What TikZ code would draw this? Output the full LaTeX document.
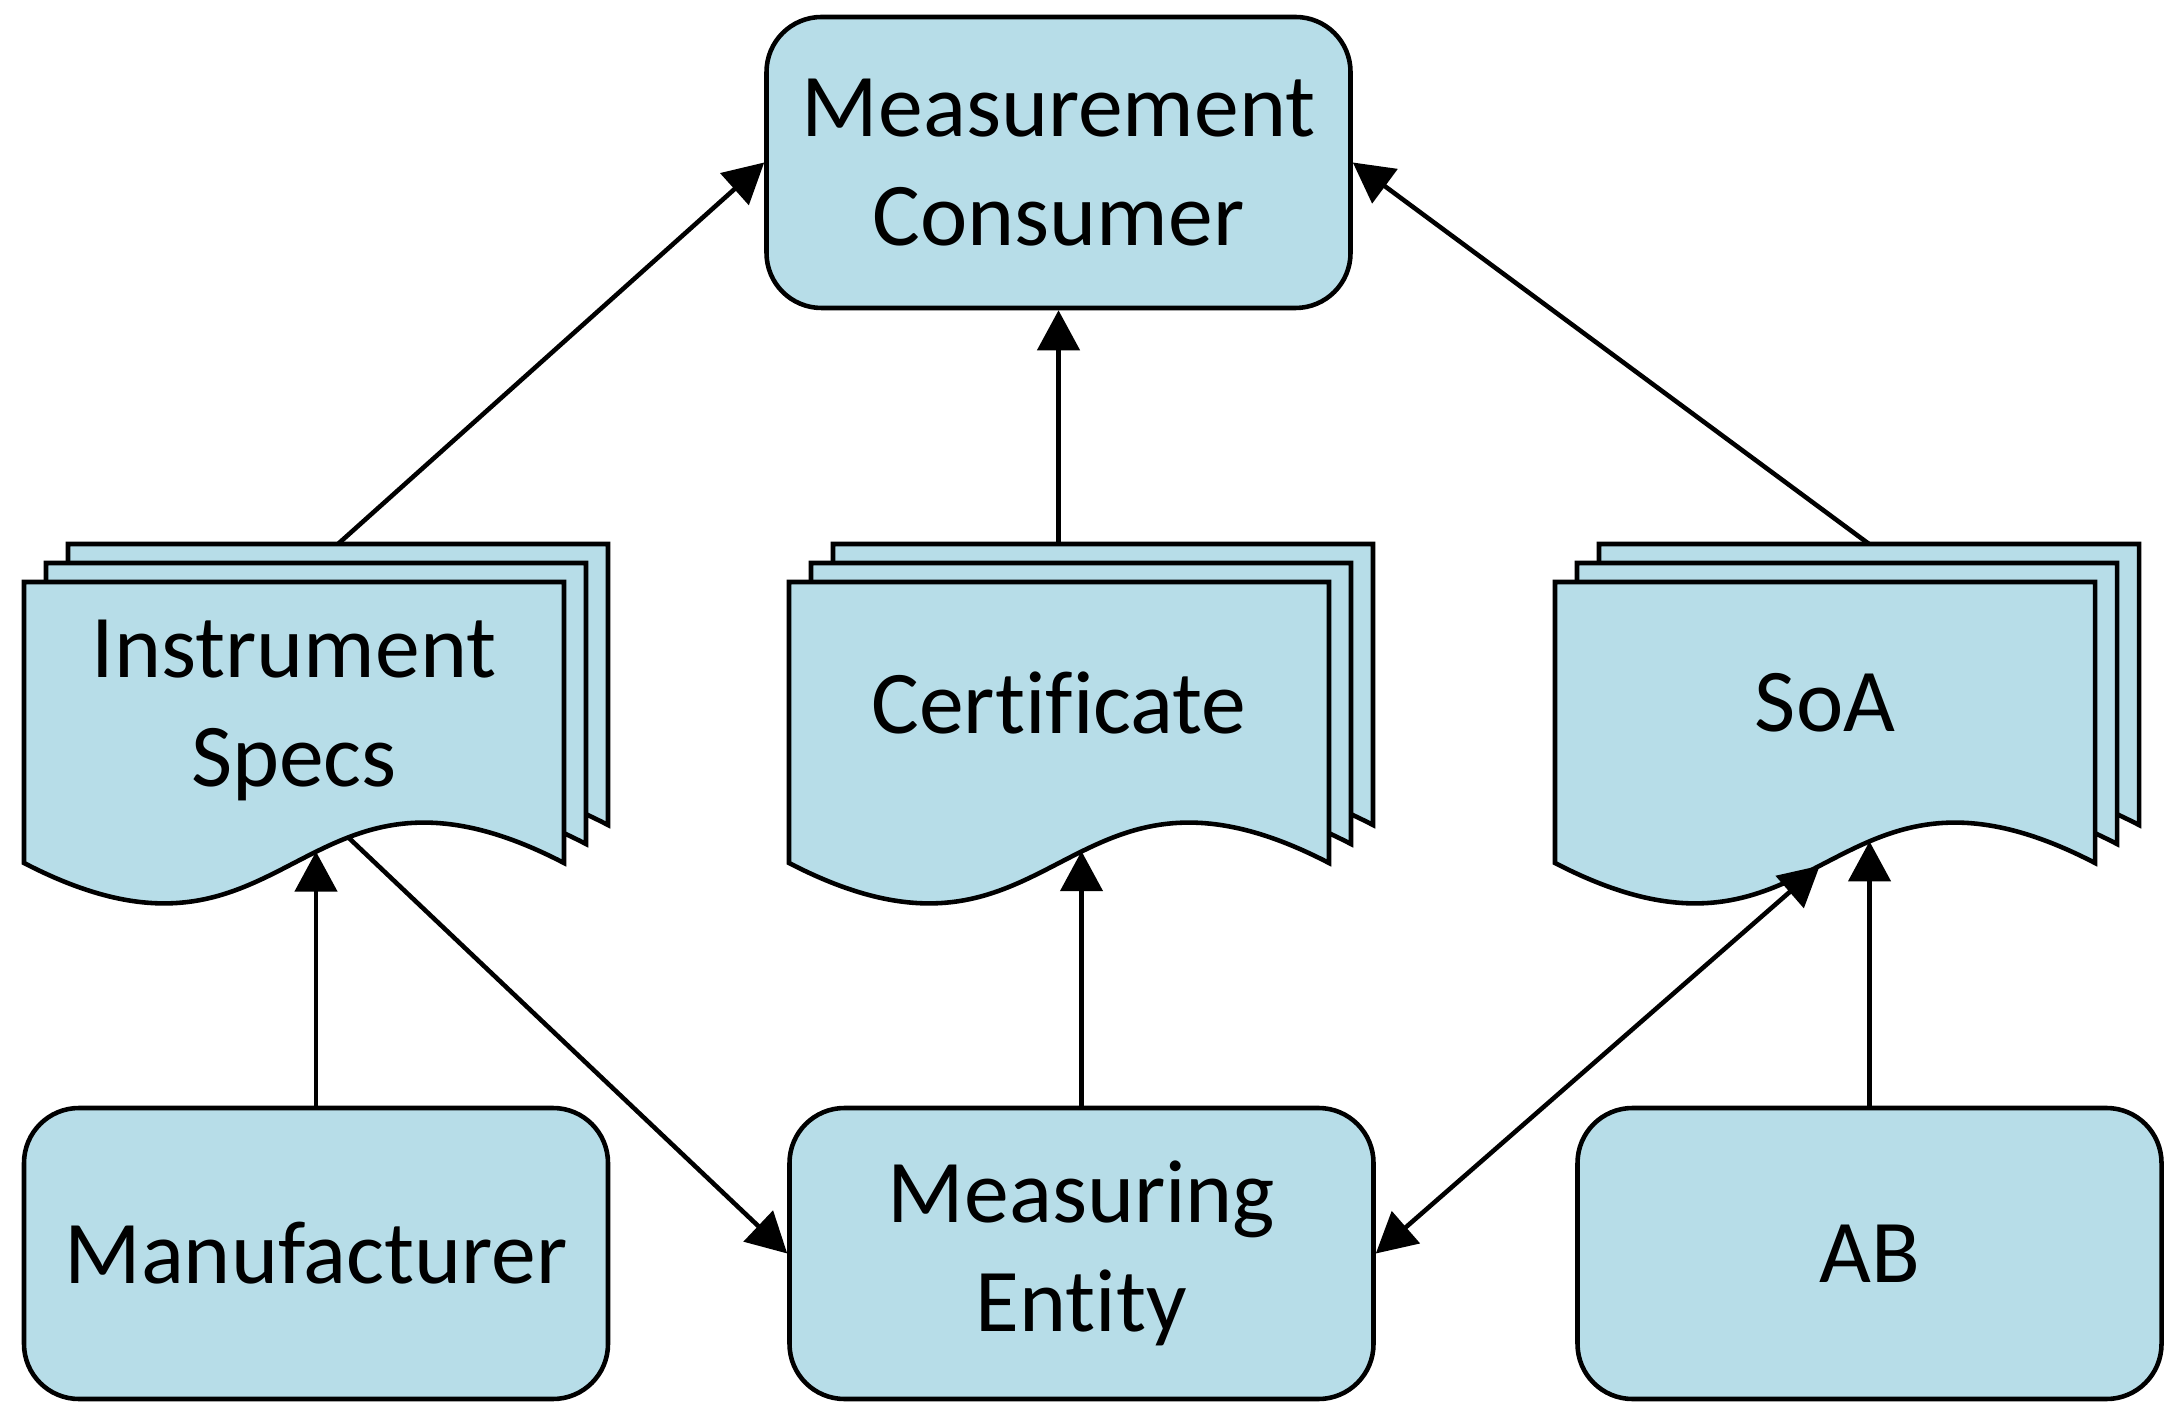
\documentclass[tikz,border=0pt]{standalone}
\usepackage{fontspec}
\setmainfont{Carlito}[Ligatures=NoCommon]
\usetikzlibrary{arrows.meta, calc}
\definecolor{docblue}{HTML}{B7DDE8}

\tikzset{
  every node/.style={font=\fontsize{25.5}{31}\selectfont, align=center},
  box/.style={draw, fill=docblue, line width=1.3pt, rounded corners=0.55cm,
              minimum width=5.84cm, minimum height=2.91cm},
  page/.style={draw, fill=docblue, line width=1.3pt},
  arr/.style={-{Triangle[length=4mm, width=4.2mm]}, line width=1.3pt},
  dblarr/.style={{Triangle[length=4mm, width=4.2mm]}-{Triangle[length=4mm, width=4.2mm]}, line width=1.3pt}
}

% stack of three pages, #1 = name, #2 = top left corner of the front page
\newcommand{\docstack}[2]{%
  \foreach \k in {2,1,0}
    \filldraw[page, shift={($(#2)+(0.22*\k,0.19*\k)$)}] (0,0) -- (0,-2.81)
      .. controls (2.7,-4.21) and (2.7,-1.41) .. (5.4,-2.81) -- (5.4,0) -- cycle;
  \coordinate (#1-top) at ($(#2)+(3.14,0.38)$);
}

\begin{document}
\begin{tikzpicture}
\useasboundingbox (0,0) rectangle (21.83,14.23);

% top
\node[box] (mc) at (10.585,12.605) {Measurement\\Consumer};

% documents
\docstack{is}{0.24,8.41}
\docstack{cert}{7.89,8.41}
\docstack{soa}{15.55,8.41}
\node (is) at (2.94,7.13) {Instrument\\Specs};
\node (cert) at (10.59,7.20) {Certificate};
\node (soa) at (18.25,7.20) {SoA};

% points on the wavy edges
\path[shift={(0.24,8.41)}] (0,-2.81) .. controls (2.7,-4.21) and (2.7,-1.41) .. (5.4,-2.81)
  coordinate[pos=0.555] (is-in) coordinate[pos=0.631] (is-out);
\path[shift={(7.89,8.41)}] (0,-2.81) .. controls (2.7,-4.21) and (2.7,-1.41) .. (5.4,-2.81)
  coordinate[pos=0.557] (cert-in);
\path[shift={(15.55,8.41)}] (0,-2.81) .. controls (2.7,-4.21) and (2.7,-1.41) .. (5.4,-2.81)
  coordinate[pos=0.487] (soa-in) coordinate[pos=0.608] (soa-up);

% bottom
\node[box] (man) at (3.16,1.695) {Manufacturer};
\node[box] (me) at (10.815,1.695) {Measuring\\Entity};
\node[box] (ab) at (18.695,1.695) {AB};

% connectors
\draw[arr] (is-top) -- (mc.west);
\draw[arr] (mc.south |- cert-top) -- (mc.south);
\draw[arr] (soa-top) -- (mc.east);
\draw[arr] (man) -- (man |- is-in);
\draw[arr] (is-out) -- (me.west);
\draw[arr] (me) -- (me |- cert-in);
\draw[dblarr] (me.east) -- (soa-in);
\draw[arr] (ab) -- (ab |- soa-up);
\end{tikzpicture}
\end{document}
